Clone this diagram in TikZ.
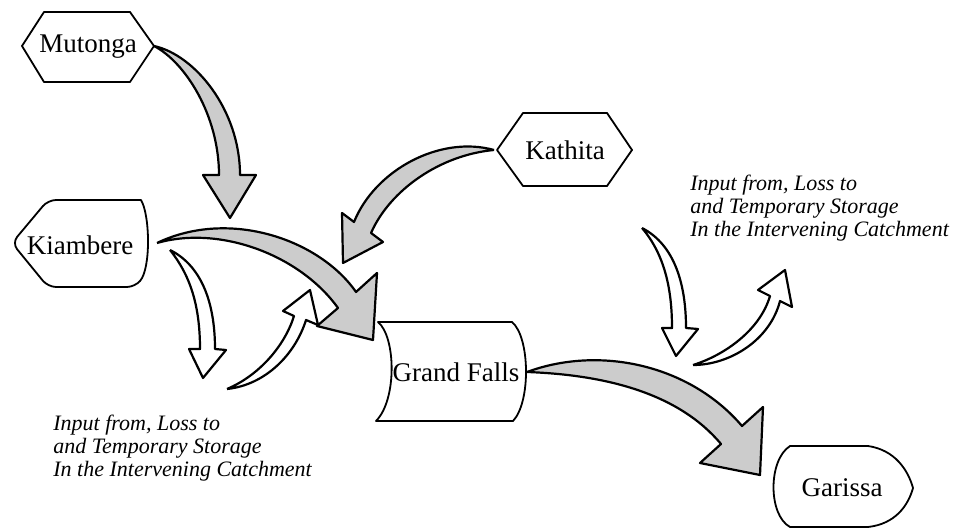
\documentclass[tikz,border=0pt]{standalone}
\usepackage{fontspec}
\setmainfont{Liberation Serif}
\usepackage{tikz}
\tikzset{
  flowarr/.style  = {draw=black,fill=gray!40,line width=1.1pt,line join=round},
  lossarr/.style  = {draw=black,fill=white,line width=1.1pt,line join=round},
  stbox/.style    = {draw=black,line width=0.9pt,line join=round},
  stlabel/.style  = {font=\fontsize{13.5}{15}\selectfont,inner sep=0pt},
  notetext/.style = {font=\fontsize{11}{11.6}\selectfont\itshape,align=left,inner sep=0pt}
}

\begin{document}
\begin{tikzpicture}[x=0.5pt,y=-0.5pt]
  \useasboundingbox (0,0) rectangle (956,528);
  % stations
  \draw[stbox] (22,46) -- (44,12) -- (130,12) -- (154,46) -- (130,82) -- (44,82) -- cycle;
  \node[stlabel] (mut) at (88,47) {Mutonga};
  \draw[stbox,rounded corners=4pt] (141,200) -- (48,200) -- (12,243) -- (48,287) -- (135,287)
    [sharp corners] .. controls (151,268) and (150,215) .. (141,200) -- cycle;
  \node[stlabel] (kia) at (80,245) {Kiambere};
  \draw[stbox] (497,150) -- (523,113) -- (607,113) -- (632,150) -- (607,186) -- (523,186) -- cycle;
  \node[stlabel] (kat) at (565,150) {Kathita};
  \draw[stbox] (378,322) -- (512,322) .. controls (530,337) and (531,402) .. (513,421)
    -- (376,421) .. controls (397,400) and (396,337) .. (378,322) -- cycle;
  \node[stlabel] (gf) at (456,372) {Grand Falls};
  \draw[stbox] (790,446) -- (868,446) .. controls (895,450) and (908,470) .. (913,488)
    .. controls (908,506) and (895,524) .. (868,527) -- (790,527)
    .. controls (768,515) and (768,460) .. (790,446) -- cycle;
  \node[stlabel] (gar) at (842,488) {Garissa};
  % tails of the flow arrows
  \coordinate (mutE) at (154,46);
  \coordinate (kiaE) at (157,243);
  \coordinate (katW) at (494,150);
  \coordinate (gfE)  at (527,372);
  % catchment arrows
  \filldraw[lossarr] (170,250) .. controls (200,265) and (215,300) .. (215,349) -- (226,350)
    -- (203,378) -- (189,349) -- (200,349) .. controls (200,305) and (190,275) .. (170,250);
  \filldraw[lossarr] (227,389) .. controls (260,375) and (285,345) .. (294,316) -- (283,311)
    -- (310,290) -- (318,325) -- (306,320) .. controls (295,355) and (265,385) .. (227,389);
  \filldraw[lossarr] (642,228) .. controls (675,245) and (686,285) .. (686,328) -- (698,329)
    -- (676,356) -- (662,328) -- (672,328) .. controls (672,290) and (665,255) .. (642,228);
  \filldraw[lossarr] (693,365) .. controls (725,355) and (760,330) .. (770,296) -- (758,290)
    -- (785,270) -- (792,307) -- (780,301) .. controls (770,340) and (730,365) .. (693,365);
  % flow arrows
  \filldraw[flowarr] (mutE) .. controls (195,55) and (240,110) .. (240,175) -- (256,175)
    -- (230,218) -- (203,175) -- (219,175) .. controls (219,115) and (185,62) .. (mutE);
  \filldraw[flowarr] (kiaE) .. controls (230,208) and (320,240) .. (356,292) -- (377,273)
    -- (373,340) -- (317,326) -- (338,308) .. controls (300,255) and (220,225) .. (kiaE);
  \filldraw[flowarr] (katW) .. controls (440,135) and (375,170) .. (354,222) -- (342,213)
    -- (343,263) -- (383,242) -- (371,233) .. controls (390,190) and (440,155) .. (katW);
  \filldraw[flowarr] (gfE) .. controls (600,345) and (690,365) .. (742,426) -- (763,407)
    -- (760,475) -- (700,463) -- (721,444) .. controls (680,395) and (610,375) .. (gfE);
  % notes
  \node[notetext,anchor=west] (noteR) at (690,208) {Input from, Loss to\\and Temporary Storage\\In the Intervening Catchment};
  \node[notetext,anchor=west] (noteL) at (53,448) {Input from, Loss to\\and Temporary Storage\\In the Intervening Catchment};
\end{tikzpicture}
\end{document}
